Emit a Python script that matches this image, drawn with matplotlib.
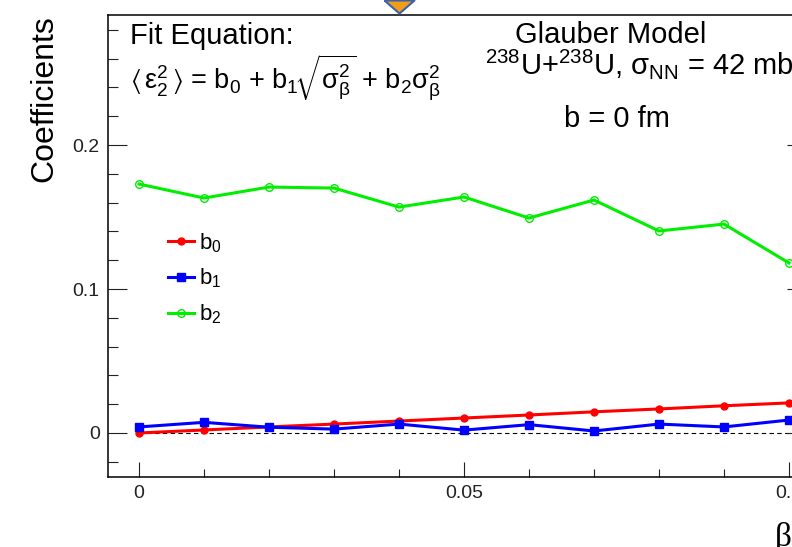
import matplotlib
matplotlib.use("Agg")
import matplotlib.pyplot as plt
from matplotlib.lines import Line2D
from matplotlib.ticker import MultipleLocator

# beta values and fitted coefficients
beta = [0.0, 0.01, 0.02, 0.03, 0.04, 0.05, 0.06, 0.07, 0.08, 0.09, 0.10]
b0 = [0.0000, 0.0021, 0.0042, 0.0062, 0.0083, 0.0104, 0.0125, 0.0147, 0.0167, 0.0189, 0.0209]
b1 = [0.0042, 0.0074, 0.0040, 0.0027, 0.0062, 0.0020, 0.0058, 0.0014, 0.0062, 0.0042, 0.0090]
b2 = [0.1729, 0.1632, 0.1708, 0.1701, 0.1569, 0.1639, 0.1493, 0.1618, 0.1403, 0.1451, 0.1181]
labels = [r'$b_0$', r'$b_1$', r'$b_2$']


def main():
  plt.rcParams['font.family'] = ['Liberation Sans', 'DejaVu Sans']
  plt.rcParams['mathtext.fontset'] = 'custom'
  plt.rcParams['mathtext.rm'] = 'Liberation Sans'
  plt.rcParams['mathtext.it'] = 'Liberation Sans'
  plt.rcParams['mathtext.default'] = 'regular'

  fig = plt.figure(figsize=(7.92, 5.47), dpi=100)
  ax = fig.add_axes([108/792, 1 - 477/547, 698/792, 462/547])

  ax.hlines(0, beta[0], beta[-1], colors='black', linestyles=(0, (4, 3)), linewidth=0.8, zorder=1)
  l2, = ax.plot(beta, b2, color='#00ee00', lw=2.2, marker='o', ms=5.5, mfc='none', mec='#00ee00', mew=1.0, zorder=2)
  l0, = ax.plot(beta, b0, color='#ff0000', lw=2.2, marker='o', ms=5, mec='#ff0000', zorder=3)
  l1, = ax.plot(beta, b1, color='#0000ff', lw=2.2, marker='s', ms=6, mec='#0000ff', zorder=4)

  ax.set_xlim(-0.00477, 0.10262)
  ax.set_ylim(-0.03056, 0.2903)
  ax.xaxis.set_minor_locator(MultipleLocator(0.01))
  ax.yaxis.set_minor_locator(MultipleLocator(0.02))
  ax.set_xticks([0, 0.05, 0.1], ['0', '0.05', '0.1'])
  ax.set_yticks([0, 0.1, 0.2], ['0', '0.1', '0.2'])
  ax.tick_params(which='both', direction='in', right=True, top=False, labelsize=14, width=0.8, colors='#222222')
  ax.tick_params(axis='x', which='major', length=11, pad=6)
  ax.tick_params(axis='x', which='minor', length=5.5)
  ax.tick_params(axis='y', which='major', length=14, pad=6)
  ax.tick_params(axis='y', which='minor', length=7)
  for s in ax.spines.values():
    s.set_linewidth(1.1)

  ax.legend([l0, l1, l2], labels, loc='upper left', bbox_to_anchor=(168/792, 1 - 231/547),
            bbox_transform=fig.transFigure, frameon=False, fontsize=16, handlelength=1.15,
            handletextpad=0.25, labelspacing=0.55, borderpad=0, borderaxespad=0)

  fig.text(44/792, 1 - 15/547, 'Coefficients', rotation=90, ha='center', va='top', fontsize=23)
  fig.text(775/792, 1 - 522/547, 'β', family='Liberation Serif', ha='left', va='top', fontsize=24)

  fig.text(130/792, 1 - 44/547, 'Fit Equation:', fontsize=21, va='baseline')
  fig.text(130/792, 1 - 89/547,
           r'$\langle\,\varepsilon_2^2\,\rangle$ = b$_0$ + b$_1\!\sqrt{\sigma_\beta^2}$ + b$_2\sigma_\beta^2$',
           fontsize=19.5, va='baseline')
  fig.text(611/792, 1 - 43/547, 'Glauber Model', fontsize=21, ha='center', va='baseline')
  fig.text(639/792, 1 - 74/547, r'$^{238}$U+$^{238}$U, $\sigma_{NN}$ = 42 mb', fontsize=21, ha='center', va='baseline')
  fig.text(617/792, 1 - 127/547, 'b = 0 fm', fontsize=21, ha='center', va='baseline')

  # decorative orange marker cut at the top edge
  tri = [(-1, 0), (1, 0), (0, -0.87), (-1, 0)]
  fig.add_artist(Line2D([399/792], [1.0], marker=tri, ms=21.6, mfc='#f39c1a', mec='#3b63a8', mew=1.5,
                        transform=fig.transFigure, clip_on=False))

  fig.savefig('out.png', dpi=100)


if __name__ == "__main__":
  main()
